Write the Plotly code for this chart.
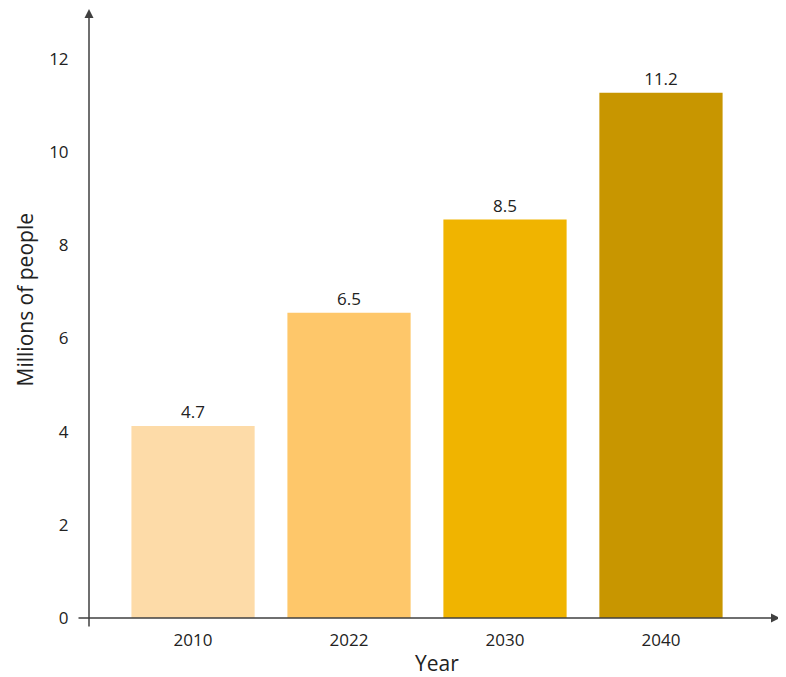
import plotly.graph_objects as go

# data
years = ["2010", "2022", "2030", "2040"]
bar_heights = [4.12, 6.55, 8.55, 11.27]   # drawn heights
bar_labels = ["4.7", "6.5", "8.5", "11.2"]  # printed labels
bar_colors = ["#FDDBA8", "#FEC76A", "#F0B400", "#C89600"]
y_ticks = [0, 2, 4, 6, 8, 10, 12]

font = "Open Sans, Liberation Sans, sans-serif"
axis_col = "#404040"

fig = go.Figure(go.Bar(
    x=years, y=bar_heights,
    marker=dict(color=bar_colors, line_width=0),
    text=bar_labels, textposition="outside",
    textfont=dict(size=17, color="#222222", family=font),
    cliponaxis=False,
))

# the page body adds an 8px offset, margins compensate for it
fig.update_layout(
    width=786, height=677,
    margin=dict(l=81, r=14, t=0, b=57),
    plot_bgcolor="white", paper_bgcolor="white",
    showlegend=False,
    bargap=0.21,
    font=dict(family=font, size=17, color="#222222"),
)

fig.update_xaxes(
    range=[-0.667, 3.763], showgrid=False, zeroline=False, showline=False,
    ticks="", tickfont=dict(size=17), automargin=False,
)
fig.update_yaxes(
    range=[-0.215, 13.09], tickvals=y_ticks, showgrid=False, zeroline=False,
    showline=False, ticks="outside", ticklen=16, tickcolor="rgba(0,0,0,0)",
    tickfont=dict(size=17), automargin=False,
)

# axis lines with arrow heads
fig.add_annotation(x=0, y=1, xref="paper", yref="paper", ax=0, ay=620,
                   text="", showarrow=True,
                   arrowhead=2, arrowsize=1.2, arrowwidth=1.5, arrowcolor=axis_col)
fig.add_annotation(x=1, y=0, xref="paper", yref="y", ax=-703, ay=0,
                   text="", showarrow=True,
                   arrowhead=2, arrowsize=1.2, arrowwidth=1.5, arrowcolor=axis_col)

# axis titles
fig.add_annotation(x=0.504, y=-0.056, xref="paper", yref="paper", text="Year",
                   showarrow=False, font=dict(size=21), yanchor="middle")
fig.add_annotation(x=-0.092, y=0.529, xref="paper", yref="paper",
                   text="Millions of people", textangle=-90, borderpad=0,
                   showarrow=False, font=dict(size=21), xanchor="center")

fig.write_html("out.html")
